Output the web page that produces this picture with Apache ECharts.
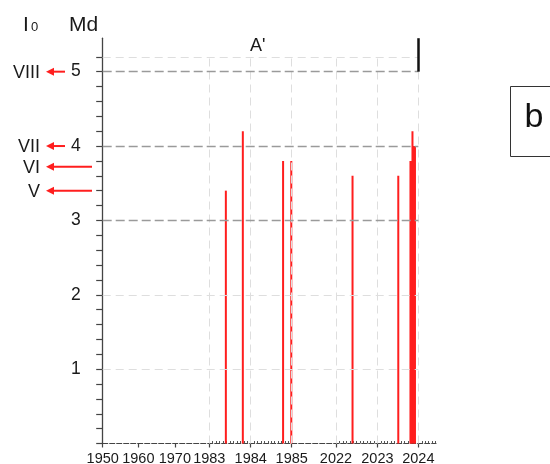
<!DOCTYPE html>
<html>
<head>
<meta charset="utf-8">
<script src="https://cdn.jsdelivr.net/npm/echarts@6/dist/echarts.min.js"></script>
<style>
  html, body { margin: 0; padding: 0; background: #fff; }
  #chart { width: 550px; height: 464px; }
</style>
</head>
<body>
<div id="chart"></div>
<script>
// labelled years on the (broken) time axis and where each one sits on the axis
const tickYears = [1950, 1960, 1970, 1983, 1984, 1985, 2022, 2023, 2024]
const tickLabels = ['1950', '1960', '1970', '1983', '1984', '1985', '2022', '2023', '2024']
const tickSlots = [0, 0.87, 1.76, 2.6, 3.61, 4.61, 5.69, 6.70, 7.70]

// earthquakes: decimal year and magnitude Md
const eventYears = [1983.40, 1983.81, 1984.79, 1984.99, 2022.40, 2023.51,
  2023.807, 2023.827, 2023.856, 2023.893, 2023.917]
const eventMd = [3.4, 4.2, 3.8, 3.8, 3.6, 3.6, 3.8, 3.8, 4.2, 4.0, 4.0]

// intensity scale next to the Md axis
const romanLabels = ['VIII', 'VII', 'VI', 'V']
const romanMd = [5, 4, 3.72, 3.4]

const mdTicks = [1, 2, 3, 4, 5]
const darkLevels = [3, 4, 5]
const lightLevels = [1, 2, 5.2]

const FONT = 'Liberation Sans, Arial, sans-serif'
const RED = '#ff1e1e'

// piecewise position of a year on the axis
const toSlot = (year) => {
  let i = 0
  while (i < tickYears.length - 2 && year > tickYears[i + 1]) i++
  const f = (year - tickYears[i]) / (tickYears[i + 1] - tickYears[i])
  return tickSlots[i] + f * (tickSlots[i + 1] - tickSlots[i])
}

const xMax = 8.13
const slot2024 = tickSlots[tickSlots.length - 1]

// monthly minor ticks in the expanded parts of the axis
const monthTicks = []
for (let m = 0; m <= 24; m++) monthTicks.push(toSlot(1983 + m / 12))
for (let m = 0; m <= 29; m++) monthTicks.push(toSlot(2022 + m / 12))

const yTicks = []
for (let k = 0; k <= 26; k++) yTicks.push(+(k * 0.2).toFixed(1))

const gridLines = []
lightLevels.forEach(v => gridLines.push([
  { coord: [0, v], lineStyle: { color: '#dedede', width: 1, type: [8, 5] } },
  { coord: [slot2024, v] }
]))
tickSlots.slice(3).forEach(s => gridLines.push([
  { coord: [s, 0], lineStyle: { color: '#dedede', width: 1, type: [8, 5] } },
  { coord: [s, 5.2] }
]))
darkLevels.forEach(v => gridLines.push([
  { coord: [0, v], lineStyle: { color: '#9a9a9a', width: 1.4, type: [9, 4] } },
  { coord: [slot2024, v] }
]))

const chart = echarts.init(document.getElementById('chart'))

const option = {
  animation: false,
  backgroundColor: '#fff',
  textStyle: { fontFamily: FONT },
  grid: { left: 102.7, right: 114, top: 38.2, bottom: 20.5, containLabel: false, outerBoundsMode: 'none' },
  xAxis: [
    {
      type: 'value',
      min: 0,
      max: xMax,
      splitLine: { show: false },
      axisLine: { show: true, lineStyle: { color: '#444', width: 1.2, type: [5, 2] } },
      axisTick: { show: true, length: 4, customValues: tickSlots, lineStyle: { color: '#444', width: 1.2 } },
      axisLabel: {
        customValues: tickSlots,
        fontSize: 14.5,
        color: '#1a1a1a',
        margin: 8,
        formatter: (v) => {
          const i = tickSlots.findIndex(s => Math.abs(s - v) < 1e-6)
          return i >= 0 ? tickLabels[i] : ''
        }
      }
    },
    {
      type: 'value',
      min: 0,
      max: xMax,
      position: 'bottom',
      splitLine: { show: false },
      axisLine: { show: false },
      axisLabel: { show: false },
      axisTick: { show: true, inside: true, length: 2.5, customValues: monthTicks, lineStyle: { color: '#555', width: 1 } }
    }
  ],
  yAxis: {
    type: 'value',
    min: 0,
    max: 5.45,
    splitLine: { show: false },
    axisLine: { show: true, lineStyle: { color: '#444', width: 1.3 } },
    axisTick: { show: true, length: 6.5, customValues: yTicks, lineStyle: { color: '#444', width: 1.2 } },
    axisLabel: { customValues: mdTicks, fontSize: 17.5, color: '#1a1a1a', margin: 22 }
  },
  series: [
    {
      type: 'line',
      data: [],
      z: 1,
      silent: true,
      markLine: {
        silent: true,
        symbol: 'none',
        label: { show: false },
        animation: false,
        data: gridLines
      }
    },
    {
      type: 'bar',
      z: 3,
      barWidth: 2,
      itemStyle: { color: RED },
      data: eventYears.map((y, i) => [toSlot(y), eventMd[i]]),
      markLine: {
        silent: true,
        symbol: 'none',
        label: { show: false },
        animation: false,
        data: [[
          { coord: [slot2024, 5], lineStyle: { color: '#111', width: 2.5, type: 'solid' } },
          { coord: [slot2024, 5.45] }
        ]]
      }
    }
  ]
}

chart.setOption(option)

const py = (v) => chart.convertToPixel({ yAxisIndex: 0 }, v)

const graphics = [
  { type: 'text', left: 23, top: 15, style: { text: 'I', font: '21px ' + FONT, fill: '#1a1a1a' } },
  { type: 'text', left: 31, top: 21, style: { text: '0', font: '13px ' + FONT, fill: '#1a1a1a' } },
  { type: 'text', left: 69, top: 15, style: { text: 'Md', font: '21px ' + FONT, fill: '#1a1a1a' } },
  { type: 'text', left: 250, top: 37, style: { text: "A'", font: '18px ' + FONT, fill: '#1a1a1a' } },
  {
    type: 'rect',
    shape: { x: 510.5, y: 86.5, width: 45, height: 70 },
    style: { fill: '#fff', stroke: '#333', lineWidth: 1 }
  },
  { type: 'text', x: 534, y: 118, style: { text: 'b', font: '34px ' + FONT, fill: '#111', align: 'center', verticalAlign: 'middle' } }
]

romanLabels.forEach((lab, i) => {
  const y = py(romanMd[i])
  const tail = Number.isInteger(romanMd[i]) ? 65 : 92
  graphics.push({
    type: 'text',
    x: 40,
    y: y + 1,
    style: { text: lab, font: '18px ' + FONT, fill: '#1a1a1a', align: 'right', verticalAlign: 'middle' }
  })
  graphics.push({
    type: 'polyline',
    shape: { points: [[tail, y], [52, y]] },
    style: { stroke: RED, lineWidth: 2 }
  })
  graphics.push({
    type: 'polygon',
    shape: { points: [[46, y], [54, y - 4], [54, y + 4]] },
    style: { fill: RED }
  })
})

chart.setOption({ graphic: graphics })
</script>
</body>
</html>
